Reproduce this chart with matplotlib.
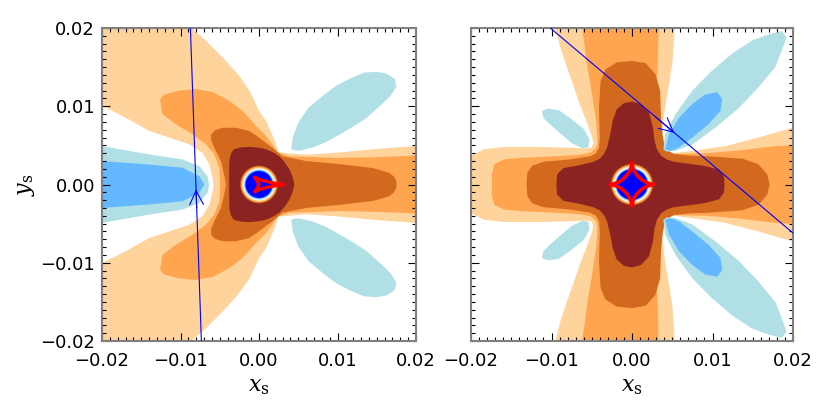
import numpy as np
import matplotlib.pyplot as plt
from matplotlib.ticker import MultipleLocator

plt.rcParams["font.family"] = "DejaVu Sans"
plt.rcParams["mathtext.fontset"] = "dejavuserif"

# fill colours of the deviation levels (X11 names, as IDL uses them)
pos_colors = ["#FFD39B", "#FFA54F", "#D2691E", "#8B2323"]   # weak -> strong positive
neg_colors = ["#B0E0E6", "#63B8FF"]                         # weak -> strong negative
core_blue = "#0000FF"

ticks = [-0.02, -0.01, 0.0, 0.01, 0.02]
tick_labels = ["\u22120.02", "\u22120.01", "0.00", "0.01", "0.02"]

# ---------------------------------------------------------------
# contour outlines, units of 1e-3, upper half only
# (both maps are mirror symmetric about y_s = 0)
# ---------------------------------------------------------------
# left map
left_pos1 = [(-5.8, 0), (-5.9, 0.85), (-6.3, 2.55), (-7.2, 4.05), (-8.9, 5.15), (-11.45, 6.0),
             (-14.0, 6.85), (-17.0, 8.55), (-20.0, 10.05), (-21, 10.4), (-21, 21), (-8.6, 21),
             (-8.6, 20.0), (-6.8, 18.4), (-4.6, 16.2), (-2.7, 14.1), (-1.2, 12.0), (0.0, 9.4),
             (0.9, 8.1), (2.0, 5.6), (2.4, 4.3), (2.6, 4.1), (6.0, 3.8), (10.3, 4.1),
             (14.5, 4.5), (19.8, 4.9), (21, 4.9)]
left_pos2 = [(-4.95, 0), (-5.05, 2.15), (-5.7, 3.85), (-6.75, 5.15), (-8.45, 6.4), (-10.6, 7.7),
             (-12.3, 9.0), (-12.5, 10.25), (-12.6, 10.9), (-12.1, 11.5), (-10.2, 12.0), (-8.0, 12.2),
             (-5.9, 11.8), (-3.8, 10.7), (-2.1, 9.4), (-0.4, 7.5), (0.9, 6.2), (1.7, 5.1),
             (2.4, 4.1), (3.9, 3.6), (10.3, 3.4), (15.4, 3.5), (19.8, 3.7), (21, 3.7)]
left_pos3 = [(-4.2, 0), (-4.45, 1.3), (-4.85, 3.0), (-5.7, 4.7), (-6.1, 5.7), (-6.1, 6.4),
             (-5.6, 6.95), (-4.65, 7.25), (-2.95, 7.25), (-1.25, 6.85), (0.0, 6.0), (0.9, 5.3),
             (1.7, 4.7), (3.0, 3.6), (6.0, 3.0), (10.3, 2.6), (14.5, 2.1), (16.6, 1.5),
             (17.2, 1.0), (17.5, 0.4), (17.5, 0)]
left_pos4 = [(-3.8, 0), (-3.8, 2.0), (-3.75, 3.2), (-3.55, 4.0), (-3.2, 4.5), (-2.3, 4.75),
             (-1.2, 4.8), (0.0, 4.7), (0.9, 4.5), (1.8, 4.1), (2.6, 3.6), (3.3, 2.8),
             (3.9, 1.9), (4.3, 0.9), (4.5, 0)]
left_neg1 = [(-21, 4.9), (-20.0, 4.9), (-14.0, 3.85), (-9.75, 3.2), (-7.6, 2.35), (-6.55, 1.05),
             (-6.35, 0)]
left_neg2 = [(-21, 3.0), (-20.0, 3.0), (-14.0, 2.55), (-9.75, 2.15), (-7.6, 1.05), (-6.95, 0)]
# closed negative lobe, upper right (its mirror image is the lower one)
left_lobe1 = [(4.1, 4.5), (4.3, 6.0), (5.0, 7.9), (6.3, 9.8), (8.1, 11.3), (9.8, 12.6),
              (11.5, 13.5), (13.4, 14.3), (15.0, 14.4), (16.2, 14.2), (17.3, 13.5), (17.5, 12.5),
              (16.8, 11.4), (15.8, 10.4), (13.7, 8.5), (12.0, 7.4), (10.3, 6.4), (8.5, 5.4),
              (6.9, 4.75), (5.3, 4.35), (4.5, 4.35)]
left_caustic = [(-0.05, 0), (-0.15, 0.4), (-0.55, 0.92), (0.28, 0.55), (1.33, 0.3),
                (2.4, 0.09), (3.2, 0)]
left_rings = [2.4, 2.28, 2.16, 2.04, 1.94, 1.84, 1.72]
left_traj = [(-8.74, 20.0), (-7.34, -20.0)]
left_arrow = [(-7.94, -3.0), (-8.02, -0.64)]     # tail, tip

# right map
right_pos1 = [(-21, 3.6), (-20.1, 3.6), (-18.4, 4.5), (-15.9, 4.8), (-11.8, 4.8), (-7.7, 4.7),
              (-5.8, 4.6), (-5.0, 4.75), (-4.8, 5.3), (-5.0, 6.2), (-5.6, 7.9), (-6.4, 10.0),
              (-7.2, 12.4), (-8.1, 15.0), (-8.9, 17.5), (-9.5, 20.0), (-9.5, 21), (5.3, 21),
              (5.3, 20.0), (5.2, 17.9), (5.0, 15.4), (4.6, 12.8), (4.1, 9.8), (3.8, 7.3),
              (3.7, 5.6), (3.8, 4.9), (4.0, 4.4), (4.5, 4.05), (5.5, 4.05), (7.5, 4.3),
              (11.6, 4.9), (15.7, 6.0), (20.1, 7.3), (21, 7.35)]
right_pos2 = [(-17.4, 0), (-17.4, 1.3), (-17.1, 2.6), (-15.9, 3.2), (-13.9, 3.4), (-9.7, 3.6),
              (-6.4, 3.8), (-5.1, 4.1), (-4.5, 4.6), (-4.3, 5.3), (-4.4, 7.7), (-4.7, 9.8),
              (-5.1, 12.4), (-5.6, 15.4), (-5.9, 17.9), (-6.2, 20.0), (-6.2, 21), (3.3, 21),
              (3.3, 20.0), (3.2, 15.4), (3.0, 12.0), (3.0, 9.4), (3.2, 7.3), (3.4, 5.8),
              (3.6, 4.9), (3.95, 4.2), (4.6, 3.9), (9.5, 4.0), (13.7, 4.4), (17.8, 4.9), (21, 5.1)]
right_pos3 = [(-13.1, 0), (-13.0, 1.5), (-12.4, 2.4), (-11.0, 2.9), (-7.7, 3.2), (-5.2, 3.6),
              (-4.5, 3.95), (-4.1, 4.7), (-4.0, 6.0), (-4.1, 9.8), (-3.9, 13.2), (-3.3, 14.7),
              (-1.9, 15.6), (0.0, 15.8), (1.7, 15.5), (2.9, 14.1), (3.5, 12.0), (3.6, 8.5),
              (3.8, 6.4), (4.0, 5.2), (4.4, 4.4), (5.2, 3.9), (7.0, 3.7), (9.5, 3.6),
              (13.7, 3.3), (15.7, 2.6), (16.8, 1.3), (17.1, 0)]
right_pos4 = [(-9.4, 0), (-9.3, 1.3), (-8.5, 2.1), (-6.8, 2.4), (-4.8, 2.9), (-4.0, 3.3),
              (-3.5, 3.9), (-3.1, 4.7), (-2.7, 6.4), (-2.4, 8.1), (-1.9, 9.6), (-1.0, 10.4),
              (0.0, 10.6), (1.1, 10.3), (2.1, 9.2), (2.6, 7.3), (2.8, 5.6), (3.1, 4.5),
              (3.6, 3.7), (4.3, 3.2), (5.2, 2.9), (8.9, 2.4), (10.8, 1.9), (11.4, 1.1), (11.5, 0)]
right_lobe1 = [(3.9, 4.5), (4.1, 6.4), (5.4, 9.0), (7.5, 12.0), (9.9, 14.5), (12.4, 16.7),
               (14.9, 18.4), (17.0, 19.2), (18.6, 19.6), (19.2, 18.8), (18.6, 17.1), (17.8, 15.0),
               (15.7, 12.4), (13.3, 9.8), (10.4, 7.3), (7.5, 5.1), (5.4, 4.3), (4.3, 4.2)]
right_lobe2 = [(4.1, 4.5), (4.6, 6.4), (5.8, 8.5), (7.5, 10.3), (9.1, 11.5), (10.6, 11.8),
               (11.2, 10.9), (11.0, 9.4), (9.5, 7.7), (7.5, 6.0), (5.8, 4.7), (4.8, 4.3)]
right_lobe3 = [(-11.2, 9.4), (-10.4, 9.7), (-9.1, 9.5), (-7.7, 8.5), (-6.0, 7.1), (-5.3, 5.8),
               (-5.4, 4.8), (-6.1, 4.6), (-7.5, 5.3), (-9.0, 6.6), (-10.2, 7.7), (-11.0, 8.5)]
# one quadrant of the four-cusp caustic (top cusp -> right cusp)
right_caustic = [(0, 2.75), (0.1, 2.2), (0.3, 1.7), (0.55, 1.3), (0.9, 0.9), (1.3, 0.55),
                 (1.7, 0.3), (2.2, 0.1), (2.75, 0)]
right_rings = [2.62, 2.5, 2.38, 2.26, 2.15, 2.05, 1.95]
right_traj = [(-10.15, 20.0), (20.0, -6.2)]
right_arrow = [(3.0, 8.57), (5.25, 6.6)]

ring_colors = [pos_colors[2], pos_colors[1], pos_colors[0], "white",
               neg_colors[0], neg_colors[1], core_blue]
scale = 1e-3


def full_outline(half):
    # upper half outline + its mirror image, as one closed polygon
    half = np.asarray(half, dtype=float) * scale
    low = half[::-1] * [1, -1]
    return np.vstack([half, low])


def fill_lobe(ax, pts, color):
    pts = np.asarray(pts, dtype=float) * scale
    ax.fill(pts[:, 0], pts[:, 1], color=color, lw=0)
    ax.fill(pts[:, 0], -pts[:, 1], color=color, lw=0)


def draw_rings(ax, radii):
    for r, c in zip(radii, ring_colors):
        ax.add_patch(plt.Circle((0, 0), r * scale, color=c, lw=0, zorder=3))


def style(ax, ylabels=True):
    ax.set_xlim(-0.02, 0.02)
    ax.set_ylim(-0.02, 0.02)
    ax.set_xticks(ticks)
    ax.set_xticklabels(tick_labels)
    ax.set_yticks(ticks)
    if ylabels:
        ax.set_yticklabels(tick_labels)
    else:
        ax.set_yticklabels([])
    ax.xaxis.set_minor_locator(MultipleLocator(0.001))
    ax.yaxis.set_minor_locator(MultipleLocator(0.001))
    ax.tick_params(which="both", direction="in", top=True, right=True, labelsize=13,
                   width=0.8, color="black")
    ax.tick_params(which="major", length=6)
    ax.tick_params(which="minor", length=3)
    ax.tick_params(axis="x", which="major", pad=8)
    ax.tick_params(axis="y", which="major", pad=5)
    for sp in ax.spines.values():
        sp.set_color("0.5")
        sp.set_linewidth(1.5)
    ax.set_xlabel(r"$x_{\rm s}$", fontsize=16, labelpad=5)


def arrow(ax, pts):
    (x0, y0), (x1, y1) = pts
    ax.annotate("", xy=(x1 * scale, y1 * scale), xytext=(x0 * scale, y0 * scale),
                arrowprops=dict(arrowstyle="->,head_length=1.0,head_width=0.5",
                                color=core_blue, lw=0.8, shrinkA=0, shrinkB=0,
                                mutation_scale=10), zorder=6)


fig = plt.figure(figsize=(8.3, 4.15), dpi=100)
ax1 = fig.add_axes([102 / 830, 74 / 415, 314 / 830, 313 / 415])
ax2 = fig.add_axes([471 / 830, 74 / 415, 322 / 830, 313 / 415])

# ---- left map ----
for half, c in zip([left_pos1, left_pos2, left_pos3, left_pos4], pos_colors):
    p = full_outline(half)
    ax1.fill(p[:, 0], p[:, 1], color=c, lw=0)
for half, c in zip([left_neg1, left_neg2], neg_colors):
    p = full_outline(half)
    ax1.fill(p[:, 0], p[:, 1], color=c, lw=0)
fill_lobe(ax1, left_lobe1, neg_colors[0])
draw_rings(ax1, left_rings)
cau = full_outline(left_caustic)
ax1.plot(cau[:, 0], cau[:, 1], color="red", lw=2.4, solid_joinstyle="round", zorder=5)
tr = np.asarray(left_traj) * scale
ax1.plot(tr[:, 0], tr[:, 1], color=core_blue, lw=0.8, zorder=6)
arrow(ax1, left_arrow)
style(ax1)
ax1.set_ylabel(r"$y_{\rm s}$", fontsize=16, labelpad=2)

# ---- right map ----
for half, c in zip([right_pos1, right_pos2, right_pos3, right_pos4], pos_colors):
    p = full_outline(half)
    ax2.fill(p[:, 0], p[:, 1], color=c, lw=0)
fill_lobe(ax2, right_lobe1, neg_colors[0])
fill_lobe(ax2, right_lobe2, neg_colors[1])
fill_lobe(ax2, right_lobe3, neg_colors[0])
draw_rings(ax2, right_rings)
q = np.asarray(right_caustic) * scale
astroid = np.vstack([q, q[::-1] * [1, -1], q * [-1, -1], q[::-1] * [-1, 1]])
ax2.plot(astroid[:, 0], astroid[:, 1], color="red", lw=2.6, solid_joinstyle="round", zorder=5)
tr = np.asarray(right_traj) * scale
ax2.plot(tr[:, 0], tr[:, 1], color=core_blue, lw=0.8, zorder=6)
arrow(ax2, right_arrow)
style(ax2, ylabels=False)

fig.savefig("out.png", dpi=100)
